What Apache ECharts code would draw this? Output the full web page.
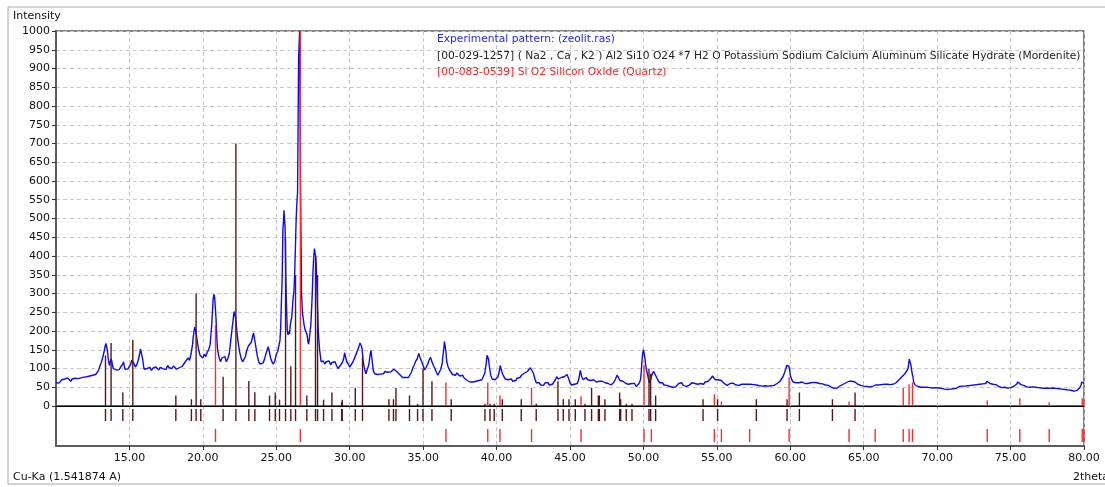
<!DOCTYPE html>
<html>
<head>
<meta charset="utf-8">
<script src="https://cdn.jsdelivr.net/npm/echarts@6/dist/echarts.min.js"></script>
<style>
  html, body { margin: 0; padding: 0; background: #fff; }
  #chart { width: 1105px; height: 487px; }
</style>
</head>
<body>
<div id="chart"></div>
<script>
// Experimental pattern (zeolit.ras): [2theta, intensity]
const expPattern = [
  [10.0,62],[10.1,64],[10.2,61],[10.3,66],[10.4,70],[10.5,65],[10.6,72],[10.7,68],[10.8,75],[10.9,70],
  [11.0,66],[11.1,72],[11.2,69],[11.3,74],[11.4,70],[11.5,73],[11.6,69],[11.7,75],[11.8,72],[11.9,77],
  [12.0,74],[12.1,78],[12.2,75],[12.3,80],[12.4,77],[12.5,82],[12.6,79],[12.7,84],[12.8,88],[12.9,95],
  [13.0,108],[13.05,104],[13.1,118],[13.15,115],[13.2,132],[13.25,128],[13.3,150],[13.35,160],[13.4,167],[13.45,162],
  [13.5,148],[13.55,128],[13.6,115],[13.65,108],[13.7,118],[13.75,126],[13.8,120],[13.85,108],[13.9,100],[14.0,104],
  [14.1,96],[14.2,101],[14.3,97],[14.4,104],[14.5,100],[14.55,112],[14.6,118],[14.65,106],[14.7,98],[14.8,103],
  [14.9,99],[15.0,106],[15.1,112],[15.15,122],[15.2,118],[15.3,114],[15.4,104],[15.5,110],[15.6,122],[15.7,140],
  [15.75,152],[15.8,156],[15.85,148],[15.9,125],[15.95,110],[16.0,98],[16.1,93],[16.2,100],[16.3,96],[16.4,103],
  [16.5,95],[16.6,101],[16.7,97],[16.8,104],[16.9,99],[17.0,96],[17.1,103],[17.2,106],[17.3,99],[17.4,104],
  [17.5,98],[17.6,108],[17.7,102],[17.8,106],[17.9,100],[18.0,107],[18.1,103],[18.2,98],[18.3,94],[18.4,102],
  [18.5,99],[18.6,106],[18.7,110],[18.8,118],[18.9,114],[19.0,128],[19.1,122],[19.2,140],[19.3,165],[19.35,185],
  [19.4,200],[19.45,210],[19.5,205],[19.55,192],[19.6,178],[19.7,152],[19.8,136],[19.9,132],[20.0,128],[20.1,138],
  [20.2,132],[20.3,144],[20.4,150],[20.5,165],[20.55,190],[20.6,215],[20.65,250],[20.7,285],[20.75,298],[20.8,290],
  [20.85,262],[20.9,230],[20.95,180],[21.0,150],[21.1,130],[21.2,118],[21.3,128],[21.4,124],[21.5,132],[21.6,118],
  [21.7,126],[21.8,140],[21.9,175],[22.0,210],[22.05,225],[22.1,245],[22.15,252],[22.2,248],[22.25,228],[22.3,205],
  [22.4,170],[22.5,145],[22.6,128],[22.7,118],[22.8,124],[22.9,132],[23.0,150],[23.1,160],[23.2,156],[23.3,170],
  [23.4,188],[23.45,195],[23.5,192],[23.6,160],[23.7,135],[23.8,118],[23.9,112],[24.0,108],[24.1,115],[24.2,125],
  [24.3,140],[24.4,152],[24.45,158],[24.5,150],[24.6,130],[24.7,118],[24.8,112],[24.9,120],[25.0,138],[25.1,146],
  [25.2,150],[25.25,175],[25.3,210],[25.35,280],[25.4,340],[25.45,470],[25.5,500],[25.52,522],[25.55,505],[25.6,475],
  [25.65,340],[25.7,260],[25.75,200],[25.8,190],[25.85,198],[25.9,192],[25.95,215],[26.0,228],[26.05,235],[26.1,240],
  [26.15,290],[26.2,305],[26.25,350],[26.3,420],[26.35,495],[26.4,540],[26.45,570],[26.5,565],[26.52,930],[26.57,930],
  [26.59,1000],[26.63,1000],[26.65,575],[26.68,570],[26.72,300],[26.78,250],[26.85,228],[26.9,215],[26.95,205],[27.0,200],
  [27.1,190],[27.15,172],[27.2,165],[27.25,180],[27.3,198],[27.35,215],[27.4,255],[27.45,300],[27.5,360],[27.55,398],
  [27.6,420],[27.65,405],[27.7,395],[27.75,340],[27.8,270],[27.85,210],[27.9,175],[27.95,150],[28.0,135],[28.05,118],
  [28.1,115],[28.2,120],[28.3,112],[28.4,118],[28.5,114],[28.6,120],[28.7,110],[28.8,116],[28.9,112],[29.0,118],
  [29.1,108],[29.2,100],[29.3,104],[29.4,110],[29.5,116],[29.6,128],[29.65,142],[29.7,138],[29.8,118],[29.9,112],
  [30.0,104],[30.1,110],[30.2,116],[30.3,125],[30.4,135],[30.5,145],[30.6,155],[30.7,168],[30.75,170],[30.8,160],
  [30.85,150],[30.9,125],[31.0,100],[31.1,86],[31.2,90],[31.3,110],[31.4,140],[31.45,148],[31.5,130],[31.6,95],
  [31.7,86],[31.8,90],[31.9,84],[32.0,88],[32.1,85],[32.2,90],[32.3,86],[32.4,92],[32.5,87],[32.6,90],
  [32.7,85],[32.8,91],[32.9,95],[33.0,98],[33.1,100],[33.2,92],[33.3,88],[33.4,84],[33.5,80],[33.6,76],
  [33.7,80],[33.8,76],[33.9,72],[34.0,76],[34.1,74],[34.2,90],[34.3,102],[34.4,110],[34.5,120],[34.6,126],
  [34.7,140],[34.75,136],[34.8,128],[34.9,118],[35.0,108],[35.1,96],[35.2,100],[35.3,110],[35.4,122],[35.5,130],
  [35.55,132],[35.6,118],[35.7,108],[35.8,100],[35.9,90],[36.0,82],[36.1,86],[36.2,98],[36.3,115],[36.35,135],
  [36.4,150],[36.45,172],[36.5,160],[36.55,145],[36.6,120],[36.7,104],[36.8,96],[36.9,90],[37.0,84],[37.1,86],
  [37.2,82],[37.3,88],[37.4,85],[37.5,80],[37.6,78],[37.7,82],[37.8,74],[37.9,70],[38.0,68],[38.1,72],
  [38.2,64],[38.3,60],[38.4,64],[38.5,62],[38.6,66],[38.7,62],[38.8,68],[38.9,65],[39.0,70],[39.1,74],
  [39.2,88],[39.3,115],[39.35,135],[39.4,140],[39.45,125],[39.5,108],[39.6,82],[39.7,72],[39.8,68],[39.9,70],
  [40.0,74],[40.1,78],[40.2,96],[40.25,108],[40.3,100],[40.4,86],[40.5,78],[40.6,72],[40.7,76],[40.8,70],
  [40.9,68],[41.0,72],[41.1,66],[41.2,64],[41.3,68],[41.4,74],[41.5,78],[41.6,76],[41.7,82],[41.8,84],
  [41.9,88],[42.0,86],[42.1,92],[42.2,96],[42.3,102],[42.35,106],[42.4,98],[42.5,88],[42.6,74],[42.7,62],
  [42.8,58],[42.9,62],[43.0,56],[43.1,60],[43.2,55],[43.3,62],[43.4,58],[43.5,62],[43.6,56],[43.7,60],
  [43.8,58],[43.9,64],[44.0,70],[44.1,78],[44.2,72],[44.3,70],[44.4,76],[44.5,72],[44.6,78],[44.7,80],
  [44.8,84],[44.9,74],[45.0,62],[45.1,56],[45.2,60],[45.3,58],[45.4,62],[45.5,60],[45.6,72],[45.7,95],
  [45.75,92],[45.8,78],[45.9,70],[46.0,72],[46.1,76],[46.2,70],[46.3,74],[46.4,68],[46.5,73],[46.6,70],
  [46.7,66],[46.8,64],[46.9,68],[47.0,66],[47.1,70],[47.2,66],[47.3,68],[47.4,62],[47.5,66],[47.6,60],
  [47.7,58],[47.8,56],[47.9,60],[48.0,64],[48.1,72],[48.2,82],[48.25,84],[48.3,76],[48.4,68],[48.5,64],
  [48.6,66],[48.7,62],[48.8,60],[48.9,64],[49.0,58],[49.1,62],[49.2,60],[49.3,56],[49.4,60],[49.5,52],
  [49.6,55],[49.7,60],[49.8,70],[49.85,90],[49.9,120],[49.95,140],[50.0,150],[50.05,140],[50.1,128],[50.15,110],
  [50.2,98],[50.3,80],[50.4,62],[50.45,60],[50.5,72],[50.6,86],[50.7,92],[50.75,96],[50.8,88],[50.9,76],
  [51.0,68],[51.1,62],[51.2,58],[51.3,62],[51.4,56],[51.5,58],[51.6,55],[51.7,58],[51.8,52],[51.9,55],
  [52.0,50],[52.1,54],[52.2,51],[52.3,56],[52.4,60],[52.5,58],[52.6,62],[52.7,56],[52.8,54],[52.9,52],
  [53.0,50],[53.1,55],[53.2,58],[53.3,62],[53.4,64],[53.5,60],[53.6,62],[53.7,58],[53.8,62],[53.9,60],
  [54.0,62],[54.1,58],[54.2,64],[54.3,62],[54.4,66],[54.5,70],[54.6,74],[54.7,80],[54.75,84],[54.8,76],
  [54.9,70],[55.0,68],[55.1,70],[55.2,66],[55.3,68],[55.4,64],[55.5,60],[55.6,56],[55.7,55],[55.8,58],
  [55.9,60],[56.0,58],[56.1,61],[56.2,58],[56.3,56],[56.4,58],[56.5,55],[56.6,56],[56.7,58],[56.8,60],
  [56.9,58],[57.0,61],[57.1,58],[57.2,56],[57.3,58],[57.4,55],[57.5,57],[57.6,54],[57.7,56],[57.8,52],
  [57.9,54],[58.0,51],[58.1,53],[58.2,50],[58.3,54],[58.4,51],[58.5,53],[58.6,56],[58.7,54],[58.8,57],
  [58.9,55],[59.0,58],[59.1,60],[59.2,62],[59.3,66],[59.4,72],[59.5,78],[59.6,88],[59.7,100],[59.75,108],
  [59.8,112],[59.85,113],[59.9,106],[59.95,98],[60.0,82],[60.1,70],[60.2,64],[60.3,60],[60.4,62],[60.5,58],
  [60.6,62],[60.7,60],[60.8,64],[60.9,62],[61.0,60],[61.1,63],[61.2,60],[61.3,64],[61.4,62],[61.5,65],
  [61.6,63],[61.7,60],[61.8,62],[61.9,58],[62.0,60],[62.1,57],[62.2,59],[62.3,55],[62.4,56],[62.5,54],
  [62.6,55],[62.7,52],[62.8,50],[62.9,48],[63.0,47],[63.1,49],[63.2,48],[63.3,52],[63.4,54],[63.5,56],
  [63.6,58],[63.7,60],[63.8,62],[63.9,64],[64.0,66],[64.1,64],[64.2,66],[64.3,62],[64.4,64],[64.5,60],
  [64.6,58],[64.7,57],[64.8,55],[64.9,56],[65.0,53],[65.1,55],[65.2,52],[65.3,54],[65.4,51],[65.5,55],
  [65.6,52],[65.7,54],[65.8,56],[65.9,53],[66.0,56],[66.1,54],[66.2,57],[66.3,55],[66.4,58],[66.5,56],
  [66.6,58],[66.7,55],[66.8,57],[66.9,56],[67.0,58],[67.1,60],[67.2,62],[67.3,66],[67.4,70],[67.5,74],
  [67.6,78],[67.7,82],[67.8,86],[67.9,90],[68.0,98],[68.05,108],[68.1,125],[68.15,130],[68.2,112],[68.25,100],
  [68.3,86],[68.35,78],[68.4,64],[68.5,56],[68.6,54],[68.7,52],[68.8,54],[68.9,50],[69.0,52],[69.1,50],
  [69.2,53],[69.3,50],[69.4,52],[69.5,49],[69.6,51],[69.7,48],[69.8,47],[69.9,49],[70.0,46],[70.1,48],
  [70.2,50],[70.3,47],[70.4,49],[70.5,45],[70.6,47],[70.7,44],[70.8,46],[70.9,45],[71.0,48],[71.1,46],
  [71.2,49],[71.3,47],[71.4,50],[71.5,52],[71.6,50],[71.7,53],[71.8,55],[71.9,53],[72.0,56],[72.1,54],
  [72.2,57],[72.3,55],[72.4,58],[72.5,56],[72.6,59],[72.7,57],[72.8,60],[72.9,58],[73.0,61],[73.1,59],
  [73.2,62],[73.3,60],[73.4,66],[73.5,62],[73.6,60],[73.7,61],[73.8,58],[73.9,56],[74.0,57],[74.1,54],
  [74.2,52],[74.3,51],[74.4,49],[74.5,48],[74.6,50],[74.7,47],[74.8,48],[74.9,46],[75.0,49],[75.1,50],
  [75.2,52],[75.3,55],[75.4,58],[75.5,64],[75.55,66],[75.6,62],[75.7,57],[75.8,54],[75.9,55],[76.0,52],
  [76.1,51],[76.2,53],[76.3,50],[76.4,49],[76.5,51],[76.6,48],[76.7,50],[76.8,48],[76.9,49],[77.0,51],
  [77.1,48],[77.2,50],[77.3,47],[77.4,49],[77.5,48],[77.6,50],[77.7,47],[77.8,49],[77.9,48],[78.0,50],
  [78.1,47],[78.2,48],[78.3,46],[78.4,48],[78.5,45],[78.6,47],[78.7,44],[78.8,46],[78.9,43],[79.0,45],
  [79.1,42],[79.2,44],[79.3,40],[79.4,43],[79.5,41],[79.6,45],[79.7,48],[79.8,56],[79.85,64],[79.9,62],
  [80.0,60]
];

// [00-029-1257] Mordenite reference lines: [2theta, intensity]
const mordenite = [
  [13.37,135],[13.75,168],[14.55,36],[15.23,177],[18.16,28],[19.22,18],[19.54,300],[19.86,18],
  [21.38,78],[22.25,700],[23.13,67],[23.54,37],[24.54,28],[24.93,36],[25.22,17],[25.63,451],
  [25.99,106],[26.31,349],[27.08,28],[27.67,400],[27.81,349],[28.22,17],[28.79,36],[29.45,10],
  [29.49,17],[30.38,49],[30.87,130],[32.67,18],[32.98,18],[33.15,48],[34.07,28],[34.62,6],
  [34.99,100],[35.60,66],[36.91,18],[39.21,6],[39.55,6],[39.84,6],[40.39,18],[41.68,18],
  [42.70,6],[44.18,66],[44.54,18],[44.93,18],[45.36,18],[46.02,6],[46.47,48],[46.93,28],
  [47.00,28],[47.38,18],[48.38,36],[48.45,18],[48.83,6],[49.22,6],[50.38,100],[50.49,86],
  [50.83,28],[54.06,18],[55.05,18],[57.69,18],[59.78,18],[60.62,36],[62.87,18],[64.41,36]
];

// [00-083-0539] Quartz reference lines: [2theta, intensity]
const quartz = [
  [20.86,215],[26.64,1000],[36.55,63],[39.40,63],[40.23,28],[42.38,48],[45.75,26],[50.04,110],
  [50.54,4],[54.83,31],[55.31,12],[57.23,2],[59.92,77],[64.00,12],[65.78,2],[67.69,48],
  [68.09,58],[68.32,63],[73.41,15],[75.63,21],[77.63,10],[79.88,21],[79.99,12]
];

const legendLines = [
  { text: 'Experimental pattern: (zeolit.ras)', color: '#1e1eff' },
  { text: '[00-029-1257] ( Na2 , Ca , K2 ) Al2 Si10 O24 *7 H2 O Potassium Sodium Calcium Aluminum Silicate Hydrate (Mordenite)', color: '#222222' },
  { text: '[00-083-0539] Si O2 Silicon Oxide (Quartz)', color: '#ff2020' }
];

const FONT = 'DejaVu Sans';
const GRID_LINE = { color: '#c8c8c8', type: [4, 3], width: 1 };
const FRAME = '#5c5c5c';
const MORD_COLOR = '#5a1616';
const QTZ_COLOR = '#ff2a2a';

// stick renderer: each datum is [x, yFrom, yTo]
function stickRenderer(color, width) {
  return function (params, api) {
    const x = api.value(0);
    const p0 = api.coord([x, api.value(1)]);
    const p1 = api.coord([x, api.value(2)]);
    return {
      type: 'line',
      shape: { x1: p0[0], y1: p0[1], x2: p1[0], y2: p1[1] },
      style: { stroke: color, lineWidth: width }
    };
  };
}

function stickSeries(data, color, width, gridIdx, z) {
  return {
    type: 'custom',
    xAxisIndex: gridIdx,
    yAxisIndex: gridIdx,
    data: data,
    encode: { x: 0, y: [1, 2] },
    renderItem: stickRenderer(color, width),
    silent: true,
    z: z
  };
}

const chart = echarts.init(document.getElementById('chart'), null, { renderer: 'canvas' });

const option = {
  backgroundColor: '#ffffff',
  animation: false,
  textStyle: { fontFamily: FONT },
  title: [
    { text: 'Intensity', left: 13, top: 11, padding: 0,
      textStyle: { fontSize: 11, fontWeight: 'normal', color: '#111', fontFamily: FONT } },
    { text: 'Cu-Ka (1.541874 A)', left: 13, top: 472, padding: 0,
      textStyle: { fontSize: 11, fontWeight: 'normal', color: '#111', fontFamily: FONT } },
    { text: '2theta', left: 1073, top: 472, padding: 0,
      textStyle: { fontSize: 11, fontWeight: 'normal', color: '#111', fontFamily: FONT } }
  ].concat(legendLines.map((l, i) => ({
    text: l.text, left: 437, top: 34 + i * 16.5, padding: 0,
    textStyle: { fontSize: 10.7, fontWeight: 'normal', color: l.color, fontFamily: FONT }
  }))),
  graphic: [
    { type: 'rect', shape: { x: 8, y: 7, width: 1120, height: 477 },
      style: { fill: 'none', stroke: '#a8a8a8', lineWidth: 1 }, silent: true, z: -1 }
  ],
  grid: [
    { left: 56, top: 31, width: 1028, height: 375, show: true, borderColor: FRAME, borderWidth: 1.5 },
    { left: 56, top: 406, width: 1028, height: 40, show: true, borderColor: FRAME, borderWidth: 1.5 }
  ],
  xAxis: [
    {
      type: 'value', gridIndex: 0, min: 10, max: 80, interval: 5,
      axisLine: { show: true, onZero: false, lineStyle: { color: '#000', width: 1 } },
      axisTick: { show: false },
      axisLabel: { show: false },
      splitLine: { show: true, lineStyle: GRID_LINE }
    },
    {
      type: 'value', gridIndex: 1, min: 10, max: 80, interval: 5, position: 'bottom',
      axisLine: { show: true, lineStyle: { color: FRAME, width: 2 } },
      axisTick: { show: true, length: 4, lineStyle: { color: '#333' } },
      axisLabel: { show: true, showMinLabel: false, margin: 7, fontSize: 11, color: '#111',
        fontFamily: FONT, formatter: v => v.toFixed(2) },
      splitLine: { show: true, lineStyle: GRID_LINE }
    }
  ],
  yAxis: [
    {
      type: 'value', gridIndex: 0, min: 0, max: 1000, interval: 50,
      axisLine: { show: true, lineStyle: { color: FRAME, width: 2 } },
      axisTick: { show: true, length: 4, lineStyle: { color: '#333' } },
      axisLabel: { fontSize: 11, color: '#111', margin: 6, fontFamily: FONT, formatter: v => String(v) },
      splitLine: { show: true, lineStyle: GRID_LINE }
    },
    {
      type: 'value', gridIndex: 1, min: 0, max: 4,
      axisLine: { show: true, lineStyle: { color: FRAME, width: 2 } },
      axisTick: { show: false }, axisLabel: { show: false }, splitLine: { show: false }
    }
  ],
  series: [
    {
      name: 'Experimental pattern',
      type: 'line',
      xAxisIndex: 0, yAxisIndex: 0,
      data: expPattern,
      symbol: 'none',
      lineStyle: { color: '#0a0aff', width: 1.4 },
      silent: true,
      z: 3
    },
    // sticks in the pattern area
    stickSeries(mordenite.map(d => [d[0], 0, d[1]]), MORD_COLOR, 1.4, 0, 4),
    stickSeries(quartz.map(d => [d[0], 0, d[1]]), QTZ_COLOR, 1.4, 0, 5),
    // stick rows under the pattern
    stickSeries(mordenite.map(d => [d[0], 2.5, 3.7]), MORD_COLOR, 1.4, 1, 4),
    stickSeries(quartz.map(d => [d[0], 0.4, 1.7]), QTZ_COLOR, 1.4, 1, 5)
  ]
};

chart.setOption(option);
</script>
</body>
</html>
